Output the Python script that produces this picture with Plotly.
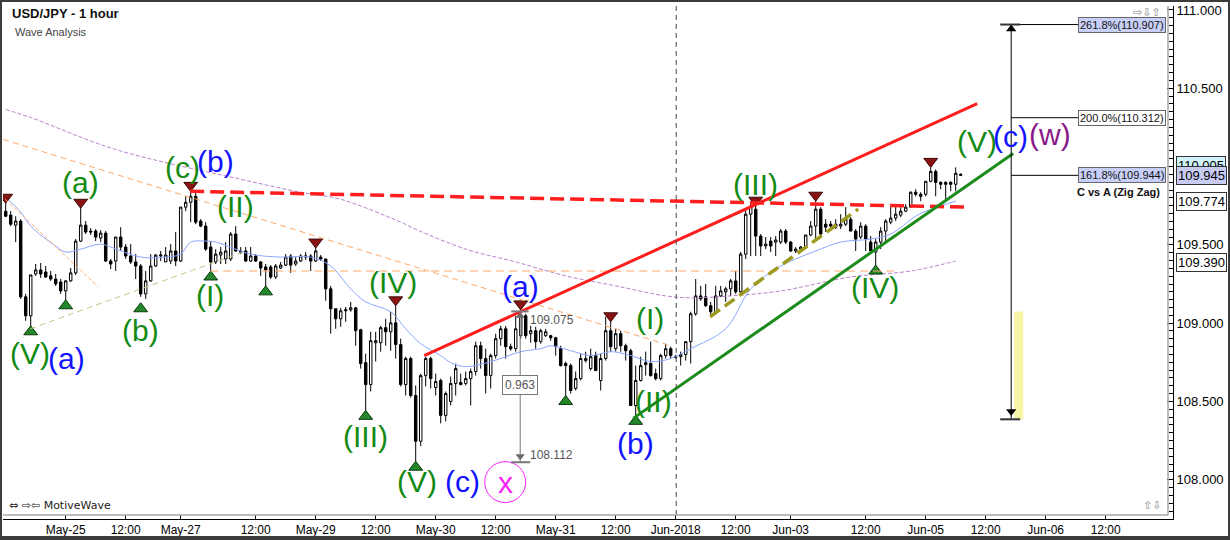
import plotly.graph_objects as go

# ---------------- data ----------------
candle_idx = list(range(192))
opens = [109.715,109.690,109.626,109.652,109.168,109.047,109.314,109.340,109.327,109.302,109.282,109.263,109.206,109.270,109.321,109.524,109.626,109.588,109.588,109.544,
109.575,109.397,109.397,109.550,109.486,109.429,109.391,109.365,109.187,109.270,109.365,109.429,109.391,109.397,109.461,109.397,109.741,109.772,109.810,109.652,
109.620,109.486,109.391,109.435,109.410,109.410,109.569,109.461,109.461,109.397,109.429,109.391,109.359,109.359,109.295,109.352,109.371,109.429,109.378,109.397,
109.422,109.429,109.397,109.422,109.410,109.219,109.092,109.028,109.079,109.085,109.098,108.958,108.748,108.608,108.875,108.875,108.971,108.945,109.002,108.863,
108.608,108.774,108.538,108.246,108.665,108.774,108.589,108.634,108.411,108.500,108.615,108.608,108.615,108.646,108.691,108.856,108.774,108.665,108.793,108.901,
108.964,108.850,108.837,108.920,109.047,108.933,108.952,108.882,108.920,108.920,108.907,108.837,108.742,108.729,108.583,108.646,108.761,108.710,108.793,108.634,
108.774,108.952,108.837,108.933,108.856,108.824,108.474,108.634,108.735,108.742,108.678,108.646,108.793,108.837,108.786,108.786,108.799,108.882,109.060,109.174,
109.168,109.111,109.073,109.174,109.200,109.219,109.270,109.200,109.441,109.696,109.728,109.556,109.493,109.524,109.518,109.518,109.588,109.518,109.461,109.473,
109.486,109.563,109.620,109.728,109.632,109.632,109.632,109.620,109.632,109.664,109.588,109.550,109.620,109.518,109.454,109.518,109.588,109.645,109.671,109.690,
109.715,109.741,109.836,109.823,109.823,109.906,109.969,109.899,109.899,109.899,109.887,109.950]
highs = [109.772,109.715,109.683,109.664,109.187,109.308,109.378,109.384,109.365,109.333,109.314,109.282,109.276,109.352,109.537,109.760,109.652,109.607,109.601,109.594,
109.588,109.410,109.550,109.613,109.505,109.505,109.441,109.378,109.333,109.441,109.441,109.461,109.486,109.505,109.582,109.741,109.810,109.842,109.836,109.664,
109.645,109.524,109.473,109.486,109.518,109.582,109.620,109.486,109.486,109.486,109.441,109.397,109.378,109.371,109.378,109.391,109.441,109.441,109.422,109.441,
109.454,109.441,109.499,109.435,109.410,109.238,109.092,109.098,109.104,109.136,109.104,108.964,108.805,108.945,108.945,108.983,109.028,109.073,109.117,108.901,
108.786,108.786,108.602,108.678,108.786,108.786,108.678,108.646,108.564,108.659,108.742,108.678,108.691,108.710,108.882,108.882,108.837,108.805,108.933,108.983,
108.983,108.869,109.047,109.075,109.060,108.983,108.977,108.964,108.964,108.926,108.913,108.856,108.755,108.742,108.691,108.805,108.818,108.837,108.818,108.805,
109.041,109.015,108.964,108.952,108.869,108.837,108.729,108.786,108.818,108.882,108.710,108.805,108.869,108.850,108.799,108.818,108.882,109.073,109.282,109.238,
109.251,109.136,109.238,109.238,109.232,109.282,109.333,109.454,109.728,109.779,109.804,109.569,109.550,109.550,109.556,109.601,109.601,109.524,109.486,109.493,
109.563,109.652,109.779,109.741,109.664,109.652,109.664,109.696,109.741,109.677,109.601,109.645,109.632,109.556,109.537,109.613,109.664,109.741,109.741,109.741,
109.760,109.842,109.855,109.836,109.906,109.995,109.982,109.906,109.906,109.906,109.995,109.957]
lows = [109.677,109.620,109.518,109.155,109.015,108.977,109.302,109.289,109.289,109.270,109.238,109.187,109.123,109.263,109.308,109.518,109.569,109.563,109.524,109.518,
109.391,109.346,109.333,109.461,109.410,109.378,109.282,109.168,109.155,109.263,109.359,109.397,109.391,109.378,109.365,109.391,109.715,109.645,109.632,109.613,
109.461,109.333,109.378,109.378,109.378,109.397,109.454,109.441,109.391,109.391,109.391,109.302,109.232,109.282,109.282,109.346,109.365,109.321,109.365,109.391,
109.403,109.333,109.391,109.397,109.143,108.933,108.964,108.977,109.009,109.073,108.856,108.710,108.430,108.564,108.755,108.818,108.856,108.824,108.774,108.596,
108.538,108.525,108.112,108.214,108.596,108.583,108.538,108.360,108.373,108.474,108.538,108.602,108.602,108.474,108.665,108.710,108.551,108.583,108.774,108.856,
108.774,108.824,108.818,108.901,108.901,108.875,108.837,108.869,108.913,108.888,108.793,108.723,108.532,108.551,108.570,108.634,108.748,108.697,108.697,108.570,
108.761,108.818,108.818,108.818,108.761,108.474,108.392,108.627,108.665,108.659,108.634,108.634,108.774,108.774,108.774,108.729,108.761,108.742,109.047,109.143,
109.104,109.047,109.060,109.168,109.136,109.174,109.187,109.187,109.410,109.429,109.429,109.429,109.473,109.454,109.429,109.505,109.505,109.454,109.448,109.461,
109.473,109.556,109.537,109.556,109.582,109.601,109.601,109.601,109.620,109.588,109.461,109.537,109.461,109.454,109.365,109.473,109.524,109.632,109.652,109.677,
109.709,109.741,109.810,109.779,109.810,109.899,109.810,109.855,109.791,109.842,109.842,109.944]
closes = [109.683,109.632,109.652,109.168,109.047,109.308,109.340,109.314,109.295,109.282,109.251,109.206,109.270,109.321,109.524,109.626,109.582,109.582,109.550,109.575,
109.397,109.378,109.550,109.486,109.429,109.391,109.365,109.187,109.270,109.365,109.435,109.435,109.435,109.461,109.397,109.741,109.772,109.810,109.645,109.620,
109.473,109.391,109.441,109.454,109.461,109.569,109.461,109.454,109.397,109.429,109.397,109.352,109.340,109.295,109.365,109.371,109.422,109.371,109.397,109.429,
109.429,109.397,109.461,109.410,109.219,109.092,109.028,109.079,109.085,109.098,108.952,108.742,108.608,108.888,108.888,108.971,108.945,109.002,108.863,108.608,
108.774,108.538,108.246,108.665,108.774,108.646,108.627,108.411,108.551,108.615,108.710,108.621,108.646,108.691,108.856,108.774,108.665,108.793,108.901,108.964,
108.850,108.837,108.964,109.047,108.920,108.952,108.882,108.952,108.945,108.907,108.850,108.729,108.729,108.570,108.646,108.774,108.774,108.786,108.697,108.774,
108.952,108.850,108.933,108.856,108.824,108.474,108.634,108.729,108.748,108.665,108.646,108.793,108.837,108.793,108.780,108.799,108.882,109.060,109.174,109.155,
109.111,109.073,109.174,109.206,109.219,109.270,109.200,109.441,109.696,109.747,109.556,109.493,109.505,109.493,109.531,109.588,109.518,109.461,109.473,109.486,
109.563,109.620,109.728,109.569,109.613,109.620,109.613,109.632,109.664,109.588,109.537,109.620,109.537,109.461,109.518,109.588,109.652,109.671,109.696,109.715,
109.741,109.836,109.823,109.810,109.906,109.969,109.899,109.887,109.887,109.887,109.957,109.945]

fast_ma_x = [0,3,5,10,12,15,19,21,27,32,35,37,40,42,49,55,61,65,69,72,77,80,83,87,89,92,97,103,107,109,113,117,121,125,129,133,137,144,149,154,158,162,167,173,177,182,185,190]
fast_ma_y = [109.804,109.709,109.620,109.492,109.454,109.473,109.505,109.486,109.422,109.422,109.441,109.518,109.524,109.518,109.441,109.422,109.422,109.365,109.219,109.136,
109.073,108.964,108.869,108.793,108.748,108.723,108.754,108.818,108.837,108.856,108.824,108.793,108.818,108.793,108.754,108.774,108.837,108.964,109.219,109.346,
109.410,109.461,109.518,109.537,109.569,109.683,109.728,109.779]
slow_ma_x = [0,5,22,47,59,67,79,82,92,102,112,122,132,137,145,155,169,181,190]
slow_ma_y = [110.364,110.313,110.109,109.919,109.836,109.791,109.645,109.600,109.473,109.391,109.302,109.238,109.174,109.162,109.174,109.206,109.295,109.333,109.397]

# tick labels
tick_idx = [12,24,35,50,62,74,86,98,110,122,134,146,157,172,184,196,208,220]
tick_text = ["May-25","12:00","May-27","12:00","May-29","12:00","May-30","12:00","May-31","12:00",
             "Jun-2018","12:00","Jun-03","12:00","Jun-05","12:00","Jun-06","12:00"]

# pivot markers
high_mark_x = [0,15,37,62,78,103,121,150,162,185]
high_mark_y = [109.804,109.772,109.880,109.518,109.149,109.123,109.047,109.785,109.817,110.033]
low_mark_x = [5,12,27,41,52,72,82,112,126,174]
low_mark_y = [108.945,109.111,109.092,109.295,109.200,108.405,108.080,108.500,108.373,109.333]

# wave labels
wave_text = ["(V)","(a)","(a)","(b)","(c)","(b)","(II)","(I)","(IV)","(III)","(V)","(c)","(a)",
             "(I)","(II)","(b)","(III)","(IV)","(V)","(c)","(w)"]
wave_x = [4.9,12.1,14.9,26.9,35.3,41.9,45.9,40.9,77.5,71.9,82.3,91.3,102.9,
          128.9,129.5,125.9,149.9,173.9,194.3,200.9,208.9]
wave_y = [108.805,108.774,109.899,108.952,109.995,110.033,109.747,109.174,109.257,108.277,107.991,107.991,109.232,
          109.028,108.500,108.233,109.887,109.225,110.160,110.192,110.205]
wave_kind = ["g","b","g","g","g","b","g","g","g","g","g","b","b","g","g","b","g","g","g","b","p"]

# trend lines: (x0, y0, x1, y1)
red_dashed = (36.9, 109.842, 192.3, 109.741)
red_solid = (83.7, 108.793, 194.3, 110.402)
green_solid = (125.5, 108.392, 201.5, 110.084)
olive_dashed = (140.9, 109.041, 170.5, 109.728)
orange_long = (-0.5, 110.173, 132.9, 108.856)
orange_flat = (40.9, 109.333, 178.3, 109.333)
orange_short = (-0.1, 109.791, 18.5, 109.232)
khaki_line = (4.9, 108.964, 47.5, 109.454)

# measurement of wave (a)
a_high, a_low = 109.075, 108.112
# fibonacci extension C vs A
fib_base = 108.386
fib_levels = [110.907, 110.312, 109.944]
fib_names = ["261.8%(110.907)", "200.0%(110.312)", "161.8%(109.944)"]

# ---------------- figure ----------------
fig = go.Figure()
fig.add_trace(go.Scatter(x=slow_ma_x, y=slow_ma_y, mode="lines", line=dict(color="#b983cc", width=1, dash="4px,2px", shape="spline"), hoverinfo="skip", showlegend=False))
fig.add_trace(go.Scatter(x=fast_ma_x, y=fast_ma_y, mode="lines", line=dict(color="#8aa8ff", width=1, shape="spline"), hoverinfo="skip", showlegend=False))

fig.add_trace(go.Candlestick(x=candle_idx, open=opens, high=highs, low=lows, close=closes,
    increasing=dict(fillcolor="white", line=dict(color="black", width=1)),
    decreasing=dict(fillcolor="black", line=dict(color="black", width=1)),
    whiskerwidth=0, hoverinfo="skip", showlegend=False))

shapes = []
def seg(p, color, width, dash="solid", layer="above"):
    shapes.append(dict(type="line", xref="x", yref="y", x0=p[0], y0=p[1], x1=p[2], y1=p[3],
                       line=dict(color=color, width=width, dash=dash), layer=layer))

seg(orange_long, "#ffa868", 1, "6px,4px")
seg(orange_flat, "#ffa868", 1, "8px,5px")
seg(orange_short, "#ffb070", 1, "4px,2px")
seg(khaki_line, "#c9c28c", 1, "6px,4px")
seg(red_dashed, "#ff1e1e", 3.5, "14px,6px")
seg(red_solid, "#ff1e1e", 3)
seg(green_solid, "#1b8c1b", 3)
seg(olive_dashed, "#9d9a1f", 3.5, "12px,6px")

# Jun-2018 separator
shapes.append(dict(type="line", xref="x", yref="paper", x0=134.1, x1=134.1, y0=0.008, y1=1,
                   line=dict(color="#444", width=1, dash="5px,4px")))

# measurement of (a)
shapes.append(dict(type="line", xref="x", yref="y", x0=102.9, x1=102.9, y0=a_low, y1=a_high, line=dict(color="#777", width=1)))
shapes.append(dict(type="line", xref="x", yref="y", x0=101.1, x1=104.6, y0=a_high, y1=a_high, line=dict(color="#777", width=2)))
shapes.append(dict(type="line", xref="x", yref="y", x0=101.1, x1=104.9, y0=a_low, y1=a_low, line=dict(color="#777", width=2)))

# fib tool
shapes.append(dict(type="rect", xref="x", yref="y", x0=201.7, x1=203.5, y0=fib_base, y1=a_high,
                   fillcolor="#f8f4a6", line=dict(width=0), layer="below"))
shapes.append(dict(type="line", xref="x", yref="y", x0=201.1, x1=201.1, y0=fib_base, y1=fib_levels[0], line=dict(color="black", width=1)))
for lv in fib_levels:
    shapes.append(dict(type="line", xref="x", yref="y", x0=201.1, x1=214.5, y0=lv, y1=lv, line=dict(color="black", width=1)))
shapes.append(dict(type="line", xref="x", yref="y", x0=198.9, x1=202.9, y0=fib_levels[0], y1=fib_levels[0], line=dict(color="#333", width=2)))
shapes.append(dict(type="line", xref="x", yref="y", x0=198.9, x1=202.9, y0=fib_base, y1=fib_base, line=dict(color="#333", width=2)))

# frame
shapes.append(dict(type="line", xref="paper", yref="paper", x0=0.99573, x1=0.99573, y0=0.0078, y1=1.0, line=dict(color="#a8a8a0", width=1.5)))
shapes.append(dict(type="line", xref="paper", yref="paper", x0=0, x1=0.99573, y0=0.0078, y1=0.0078, line=dict(color="#a8a8a0", width=1.5)))
shapes.append(dict(type="rect", xref="paper", yref="paper", x0=-0.00256, x1=1.04872, y0=-0.0369, y1=1.01165,
                   line=dict(color="#3c3c3c", width=4)))

# markers
fig.add_trace(go.Scatter(x=high_mark_x, y=high_mark_y, mode="markers",
    marker=dict(symbol="triangle-down", size=12, color="#8a1212", line=dict(color="#3a0a0a", width=1)),
    hoverinfo="skip", showlegend=False))
fig.add_trace(go.Scatter(x=low_mark_x, y=low_mark_y, mode="markers",
    marker=dict(symbol="triangle-up", size=12, color="#23862a", line=dict(color="#0b3a0b", width=1)),
    hoverinfo="skip", showlegend=False))
# arrow heads
fig.add_trace(go.Scatter(x=[201.1, 201.1], y=[110.879, 108.436], mode="markers",
    marker=dict(symbol=["triangle-up", "triangle-down"], size=9, color="black"), hoverinfo="skip", showlegend=False))
fig.add_trace(go.Scatter(x=[102.9, 102.9], y=[109.047, 108.150], mode="markers",
    marker=dict(symbol=["triangle-up", "triangle-down"], size=8, color="#666"), hoverinfo="skip", showlegend=False))
# x circle
fig.add_trace(go.Scatter(x=[99.9], y=[107.985], mode="markers",
    marker=dict(symbol="circle-open", size=41, color="#ff22ff", line=dict(width=1)), hoverinfo="skip", showlegend=False))

annotations = []
colors = {"g": "#138a13", "b": "#1212ff", "p": "#8a1a8a"}
for t, x, y, k in zip(wave_text, wave_x, wave_y, wave_kind):
    annotations.append(dict(x=x, y=y, xref="x", yref="y", text=t, showarrow=False,
                            font=dict(family="Liberation Sans, Arial", size=30, color=colors[k])))
annotations.append(dict(x=99.9, y=107.985, xref="x", yref="y", text="x", showarrow=False,
                        font=dict(family="Liberation Sans, Arial", size=30, color="#ff22ff")))

# measurement labels
annotations.append(dict(x=102.9, y=108.602, xref="x", yref="y", text="0.963", showarrow=False,
                        font=dict(family="Liberation Sans, Arial", size=12, color="#555"),
                        bgcolor="white", bordercolor="#777", borderwidth=1, borderpad=2))
annotations.append(dict(x=104.5, y=109.022, xref="x", yref="y", text="109.075", showarrow=False, xanchor="left",
                        font=dict(family="Liberation Sans, Arial", size=12, color="#555")))
annotations.append(dict(x=104.5, y=108.160, xref="x", yref="y", text="108.112", showarrow=False, xanchor="left",
                        font=dict(family="Liberation Sans, Arial", size=12, color="#555")))

# fib labels
fib_bg = ["#c9d0f8", "white", "#c9d0f8"]
for lv, nm, bg in zip(fib_levels, fib_names, fib_bg):
    annotations.append(dict(x=214.5, y=lv, xref="x", yref="y", text=nm, showarrow=False, xanchor="left",
                            font=dict(family="Liberation Sans, Arial", size=11, color="#111"),
                            bgcolor=bg, bordercolor="#666", borderwidth=1, borderpad=1))
annotations.append(dict(x=231.3, y=109.836, xref="x", yref="y", text="<b>C vs A (Zig Zag)</b>", showarrow=False, xanchor="right",
                        font=dict(family="Liberation Sans, Arial", size=11, color="#111")))

# right price tags
tags = [("110.005", "#cff3f8"), ("109.945", "#c8ccf4"), ("109.774", "white"), ("109.390", "white")]
for val, bg in tags:
    annotations.append(dict(x=1.0026, y=float(val), xref="paper", yref="y", text=val, showarrow=False, xanchor="left",
                            font=dict(family="Liberation Sans, Arial", size=13, color="black"),
                            bgcolor=bg, bordercolor="#333", borderwidth=1, borderpad=1))

# titles and misc text
annotations.append(dict(x=0.006, y=0.9845, xref="paper", yref="paper", text="<b>USD/JPY - 1 hour</b>", showarrow=False,
                        xanchor="left", yanchor="middle", font=dict(family="Liberation Sans, Arial", size=13, color="#111")))
annotations.append(dict(x=0.0085, y=0.9495, xref="paper", yref="paper", text="Wave Analysis", showarrow=False,
                        xanchor="left", yanchor="middle", font=dict(family="Liberation Sans, Arial", size=11, color="#444")))
annotations.append(dict(x=0.0034, y=0.0272, xref="paper", yref="paper", text="⇔ ⇨⇦ MotiveWave", showarrow=False,
                        xanchor="left", yanchor="middle", font=dict(family="DejaVu Sans, Liberation Sans", size=11, color="#222")))
annotations.append(dict(x=0.9915, y=0.9880, xref="paper", yref="paper", text="⇨⇩⇧", showarrow=False,
                        xanchor="right", yanchor="middle", font=dict(family="DejaVu Sans", size=11, color="#888")))
annotations.append(dict(x=0.9915, y=0.0272, xref="paper", yref="paper", text="⇧⇩", showarrow=False,
                        xanchor="right", yanchor="middle", font=dict(family="DejaVu Sans", size=11, color="#888")))

fig.update_layout(
    width=1230, height=540,
    margin=dict(l=3, r=57, t=6, b=19),
    paper_bgcolor="white", plot_bgcolor="white",
    shapes=shapes, annotations=annotations,
    showlegend=False,
    font=dict(family="Liberation Sans, Arial", size=12, color="black"),
    xaxis=dict(range=[-0.54, 233.46], tickmode="array", tickvals=tick_idx, ticktext=tick_text,
               showgrid=False, zeroline=False, showline=True, linecolor="black", linewidth=1,
               ticks="inside", ticklen=4, tickcolor="black", rangeslider=dict(visible=False),
               tickfont=dict(size=12, family="Liberation Sans, Arial")),
    yaxis=dict(range=[107.7494, 111.0254], side="right", dtick=0.5, tick0=108, tickformat=".3f",
               showgrid=False, zeroline=False, showline=True, linecolor="black", linewidth=1,
               ticks="inside", ticklen=6, tickcolor="black",
               minor=dict(dtick=0.05, ticks="inside", ticklen=4, tickcolor="black"),
               tickfont=dict(size=13, family="Liberation Sans, Arial")),
)

fig.write_html("out.html", config={"displayModeBar": False},
               post_script="document.body.style.margin='0px';")
